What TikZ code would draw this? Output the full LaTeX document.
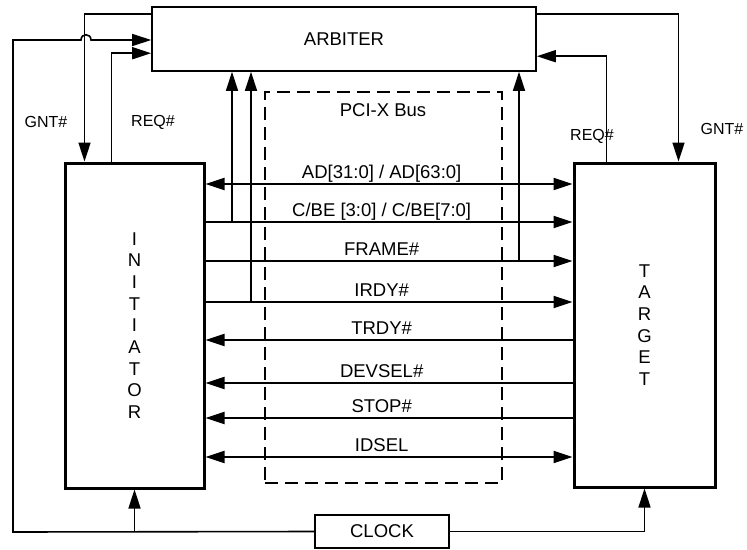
\documentclass[tikz,border=0pt]{standalone}
\usepackage{fontspec}
\setmainfont{Liberation Sans}
\usepackage{tikz}
\usetikzlibrary{arrows.meta,positioning}

\begin{document}
\begin{tikzpicture}[x=1pt, y=-1pt, every node/.style={font=\fontsize{18.5}{21.7}\selectfont}]
    \tikzstyle{unit} = [rectangle, draw=black, line width=3pt, align=center,
        minimum width=139pt, minimum height=325pt, inner sep=0pt]
    \tikzstyle{box} = [rectangle, draw=black, line width=1.6pt, inner sep=0pt]
    \tikzstyle{sig} = [-{Triangle[length=19pt,width=12pt]}, line width=1.6pt]
    \tikzstyle{fwd} = [-{Triangle[length=19pt,width=12pt]}, line width=2.2pt]
    \tikzstyle{back} = [{Triangle[length=19pt,width=12pt]}-, line width=2.2pt]
    \tikzstyle{both} = [{Triangle[length=19pt,width=12pt]}-{Triangle[length=19pt,width=12pt]}, line width=2.2pt]
    \tikzstyle{tag} = [font=\fontsize{16}{18}\selectfont]
    \tikzstyle{lbl} = [anchor=base, yshift=6pt, pos=0.48, inner sep=0pt]

    \useasboundingbox (0,0) rectangle (747,549);

    % blocks
    \node (arb) [box, minimum width=384pt, minimum height=64pt] at (344,39) {ARBITER};
    \node (init) [unit] at (134.5,325.5) {I\\N\\I\\T\\I\\A\\T\\O\\R};
    \node (tgt) [unit, minimum width=141pt, minimum height=324pt] at (644.5,325) {T\\A\\R\\G\\E\\T};
    \node (clk) [box, minimum width=134pt, minimum height=33pt] at (382,531.5) {CLOCK};
    \node (pcix) [rectangle, draw=black, line width=1.5pt, dash pattern=on 13pt off 7pt,
        minimum width=237pt, minimum height=391pt] at (383.5,287.5) {};
    \node (buslbl) at (383,110) {PCI-X Bus};

    % request / grant
    \node (gntL) [tag] at (46,122) {GNT\#};
    \node (reqL) [tag] at (153,122) {REQ\#};
    \node (reqR) [tag] at (592,136) {REQ\#};
    \node (gntR) [tag] at (722,129) {GNT\#};
    \draw [sig] ([yshift=-8pt]arb.north west) -| ([xshift=21pt]init.north west);
    \draw [sig] ([xshift=48pt]init.north west) |- ([yshift=-47pt]arb.north west);
    \draw [sig] ([yshift=-8pt]arb.north east) -| ([xshift=-38pt]tgt.north east);
    \draw [sig] ([xshift=34pt]tgt.north west) |- ([yshift=-50pt]arb.north east);

    % clock
    \coordinate (cbl) at (13,532);
    \coordinate (ctl) at (13,40);
    \coordinate (hopL) at (81,40);
    \coordinate (hopR) at (91,40);
    \draw [sig] (clk.west) -- (cbl) -- (ctl) -- (hopL)
        .. controls +(0,-7) and +(0,-7) .. (hopR) -- (arb.west |- hopR);
    \draw [sig] (init.south |- cbl) -- (init.south);
    \draw [sig] (clk.east) -| (tgt.south);

    % bus rows
    \coordinate (rAD) at (0,184);
    \coordinate (rCBE) at (0,222);
    \coordinate (rFRAME) at (0,261);
    \coordinate (rIRDY) at (0,302);
    \coordinate (rTRDY) at (0,340);
    \coordinate (rDEVSEL) at (0,383);
    \coordinate (rSTOP) at (0,418);
    \coordinate (rIDSEL) at (0,457);
    \draw [both] (init.east |- rAD) -- node[lbl] (tAD) {AD[31:0] / AD[63:0]} (tgt.west |- rAD);
    \draw [fwd] (init.east |- rCBE) -- node[lbl] (tCBE) {C/BE [3:0] / C/BE[7:0]} (tgt.west |- rCBE);
    \draw [fwd] (init.east |- rFRAME) -- node[lbl] (tFRAME) {FRAME\#} (tgt.west |- rFRAME);
    \draw [fwd] (init.east |- rIRDY) -- node[lbl] (tIRDY) {IRDY\#} (tgt.west |- rIRDY);
    \draw [back] (init.east |- rTRDY) -- node[lbl] (tTRDY) {TRDY\#} (tgt.west |- rTRDY);
    \draw [back] (init.east |- rDEVSEL) -- node[lbl] (tDEVSEL) {DEVSEL\#} (tgt.west |- rDEVSEL);
    \draw [back] (init.east |- rSTOP) -- node[lbl] (tSTOP) {STOP\#} (tgt.west |- rSTOP);
    \draw [both] (init.east |- rIDSEL) -- node[lbl] (tIDSEL) {IDSEL} (tgt.west |- rIDSEL);

    % taps up to the arbiter
    \coordinate (tapA) at (232,0);
    \coordinate (tapB) at (251,0);
    \coordinate (tapC) at (519,0);
    \draw [sig] (tapA |- rCBE) -- (tapA |- arb.south);
    \draw [sig] (tapB |- rIRDY) -- (tapB |- arb.south);
    \draw [sig] (tapC |- rFRAME) -- (tapC |- arb.south);
\end{tikzpicture}
\end{document}
